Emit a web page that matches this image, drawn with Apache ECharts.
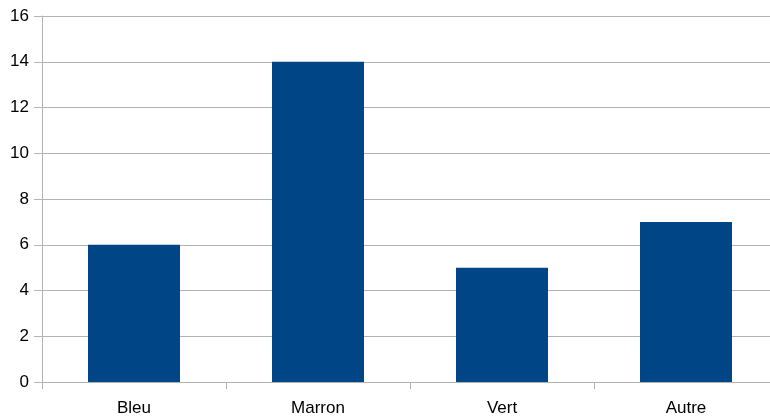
<!DOCTYPE html>
<html>
<head>
<meta charset="utf-8">
<script src="https://cdn.jsdelivr.net/npm/echarts@6/dist/echarts.min.js"></script>
<style>
  html, body { margin: 0; padding: 0; background: #fff; overflow: hidden; }
  #chart { width: 778px; height: 416px; }
</style>
</head>
<body>
<div id="chart"></div>
<script>
// catégories et valeurs
const categories = ['Bleu', 'Marron', 'Vert', 'Autre']
const values = [6, 14, 5, 7]

const chart = echarts.init(document.getElementById('chart'))

const axisGray = '#b3b3b3'
const labelFont = {
  color: '#000',
  fontFamily: 'Liberation Sans, Arial, sans-serif',
  fontSize: 17
}

chart.setOption({
  animation: false,
  grid: { left: 42, right: 0, top: 16, bottom: 34, outerBoundsMode: 'none' },
  xAxis: {
    type: 'category',
    data: categories,
    boundaryGap: true,
    axisLine: { lineStyle: { color: axisGray } },
    axisTick: { show: true, length: 7, inside: false, lineStyle: { color: axisGray } },
    axisLabel: { ...labelFont, margin: 18 },
    splitLine: { show: false }
  },
  yAxis: {
    type: 'value',
    min: 0,
    max: 16,
    interval: 2,
    axisLine: { show: true, lineStyle: { color: axisGray } },
    axisTick: { show: true, length: 8, lineStyle: { color: axisGray } },
    axisLabel: { ...labelFont, margin: 13 },
    splitLine: { show: true, lineStyle: { color: axisGray } }
  },
  series: [{
    type: 'bar',
    data: values,
    barWidth: '50%',
    itemStyle: { color: '#004586' }
  }]
})
</script>
</body>
</html>
